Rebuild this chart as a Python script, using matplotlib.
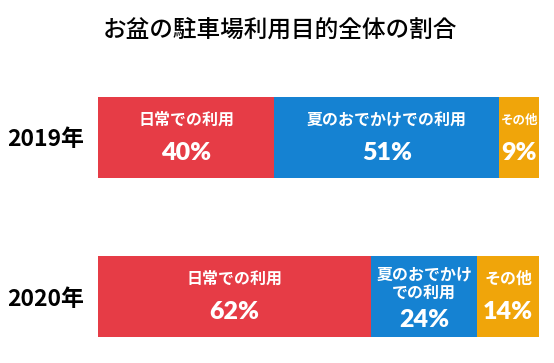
import numpy as np
import matplotlib
matplotlib.use("Agg")
import matplotlib.pyplot as plt

plt.rcParams['font.family'] = ['Noto Sans CJK JP', 'DejaVu Sans']

title = 'お盆の駐車場利用目的全体の割合'
years = ['2019年', '2020年']
categories = ['日常での利用', '夏のおでかけでの利用', 'その他']
values_2019 = [40, 51, 9]
values_2020 = [62, 24, 14]
labels_2019 = ['日常での利用', '夏のおでかけでの利用', 'その他']
labels_2020 = ['日常での利用', '夏のおでかけ\nでの利用', 'その他']
colors = ['#E63C46', '#1582D2', '#F0A50A']

W, H = 554, 363
fig = plt.figure(figsize=(W / 100, H / 100), dpi=100)
ax = fig.add_axes([98 / W, 1 - 337 / H, 441 / W, 240 / H])

bh = 81 / 159
ypos = np.arange(len(years))
vals = np.array([values_2019, values_2020])
labs = [labels_2019, labels_2020]
left = np.zeros(len(years))
for j, cat in enumerate(categories):
    ax.barh(ypos, vals[:, j], left=left, height=bh, color=colors[j],
            edgecolor='none', label=cat)
    for i in range(len(years)):
        xc = left[i] + vals[i, j] / 2
        small = vals[i, j] < 10
        two_line = '\n' in labs[i][j]
        # category name
        ax.annotate(labs[i][j], (xc, ypos[i]), xytext=(0, 12.5 if not two_line else 9.5),
                    textcoords='offset points', ha='center', va='center',
                    color='white', fontsize=9 if small else 11.5, fontweight='bold',
                    linespacing=1.15)
        # percentage
        ax.annotate(f'{vals[i, j]}%', (xc, ypos[i]),
                    xytext=(0, -11 if not two_line else -17),
                    textcoords='offset points', ha='center', va='center',
                    color='white', fontsize=18, fontweight='heavy', family='Lato')
    left += vals[:, j]

ax.set_xlim(0, 100)
ax.set_ylim(len(years) - 1 + bh / 2, -bh / 2)
ax.set_yticks(ypos)
ax.set_yticklabels(years, fontsize=16.5, fontweight='bold')
ax.tick_params(axis='y', length=0, pad=10)
ax.set_xticks([])
for s in ax.spines.values():
    s.set_visible(False)

fig.text(280 / W, 1 - 30 / H, title, ha='center', va='center', fontsize=17,
         fontweight='medium')

fig.savefig('out.png', dpi=100)
